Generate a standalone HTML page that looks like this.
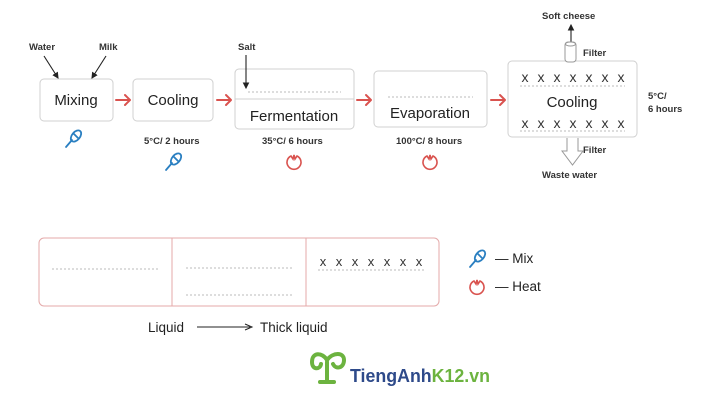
<!DOCTYPE html>
<html><head><meta charset="utf-8"><style>
html,body{margin:0;padding:0;background:#fff;}
svg{display:block;font-family:"Liberation Sans",sans-serif;}
</style></head><body>
<svg width="712" height="414" viewBox="0 0 712 414" xmlns="http://www.w3.org/2000/svg">
<defs>
<marker id="ba" markerWidth="6" markerHeight="6" refX="5" refY="3" orient="auto"><path d="M0,0 L6,3 L0,6 z" fill="#222"/></marker>
<g id="whisk" fill="none" stroke="#2a7fc1" stroke-width="1.8" stroke-linecap="round">
<ellipse cx="3" cy="-3" rx="4" ry="6.5" transform="rotate(40 3 -3)"/>
<path d="M1,-5 L5,-1"/>
<path d="M-1,1 L-7,8"/>
</g>
<g id="heat" fill="none" stroke="#d9534f" stroke-width="1.6">
<path d="M-3,-6 A7,7 0 1 0 3,-6 L1,-3 L0,-7 L-1,-3 Z"/>
</g>
</defs>
<g fill="none" stroke="#d0d0d0" stroke-width="1">
<rect x="40" y="79" width="73" height="42" rx="4"/>
<rect x="133" y="79" width="80" height="42" rx="4"/>
<rect x="235" y="69" width="119" height="60" rx="4"/>
<line x1="235" y1="99" x2="354" y2="99"/>
<rect x="374" y="71" width="113" height="56" rx="4"/>
<rect x="508" y="61" width="129" height="76" rx="4"/>
</g>
<g stroke="#bbb" stroke-dasharray="2,2" fill="none">
<line x1="248" y1="92" x2="341" y2="92"/>
<line x1="388" y1="97" x2="473" y2="97"/>
<line x1="520" y1="86" x2="625" y2="86"/>
<line x1="520" y1="131" x2="625" y2="131"/>
</g>
<g font-size="15" fill="#222" text-anchor="middle">
<text x="76" y="105">Mixing</text>
<text x="173" y="105">Cooling</text>
<text x="294" y="121">Fermentation</text>
<text x="430" y="118">Evaporation</text>
<text x="572" y="107">Cooling</text>
</g>
<g font-size="14" fill="#333" text-anchor="middle">
<text x="525" y="82">x</text><text x="541" y="82">x</text><text x="557" y="82">x</text><text x="573" y="82">x</text><text x="589" y="82">x</text><text x="605" y="82">x</text><text x="621" y="82">x</text>
<text x="525" y="128">x</text><text x="541" y="128">x</text><text x="557" y="128">x</text><text x="573" y="128">x</text><text x="589" y="128">x</text><text x="605" y="128">x</text><text x="621" y="128">x</text>
</g>
<g font-size="9.5" font-weight="bold" fill="#333">
<text x="29" y="50">Water</text>
<text x="99" y="50">Milk</text>
<text x="238" y="50">Salt</text>
<text x="144" y="144">5°C/ 2 hours</text>
<text x="262" y="144">35°C/ 6 hours</text>
<text x="396" y="144">100°C/ 8 hours</text>
<text x="542" y="19">Soft cheese</text>
<text x="583" y="56">Filter</text>
<text x="583" y="153">Filter</text>
<text x="542" y="178">Waste water</text>
<text x="648" y="99">5°C/</text>
<text x="648" y="112">6 hours</text>
</g>
<g stroke="#222" stroke-width="1.1" fill="none" marker-end="url(#ba)">
<line x1="44" y1="56" x2="58" y2="78"/>
<line x1="106" y1="56" x2="92" y2="78"/>
<line x1="246" y1="55" x2="246" y2="88"/>
<line x1="571" y1="42" x2="571" y2="25"/>
</g>
<rect x="565" y="42" width="11" height="20" rx="3" fill="#fff" stroke="#999"/>
<ellipse cx="570.5" cy="44" rx="5" ry="2" fill="none" stroke="#999"/>
<path d="M567,138 L567,151 L562,151 L572.5,165 L583,151 L578,151 L578,138" fill="#fff" stroke="#999"/>
<g stroke="#d9534f" stroke-width="2" fill="none" stroke-linecap="round" stroke-linejoin="round">
<path d="M116,100 L130,100 M125,95 L130,100 L125,105"/>
<path d="M217,100 L231,100 M226,95 L231,100 L226,105"/>
<path d="M357,100 L371,100 M366,95 L371,100 L366,105"/>
<path d="M491,100 L505,100 M500,95 L505,100 L500,105"/>
</g>
<use href="#whisk" x="73" y="139"/>
<use href="#whisk" x="173" y="162"/>
<use href="#heat" x="294" y="162"/>
<use href="#heat" x="430" y="162"/>
<rect x="39" y="238" width="400" height="68" rx="5" fill="none" stroke="#e4aaaa"/>
<line x1="172" y1="238" x2="172" y2="306" stroke="#e4aaaa"/>
<line x1="306" y1="238" x2="306" y2="306" stroke="#e4aaaa"/>
<g stroke="#bbb" stroke-dasharray="2,2">
<line x1="52" y1="269" x2="160" y2="269"/>
<line x1="186" y1="268" x2="292" y2="268"/>
<line x1="186" y1="295" x2="292" y2="295"/>
<line x1="318" y1="270" x2="424" y2="270"/>
</g>
<g font-size="13" fill="#333" text-anchor="middle">
<text x="323" y="266">x</text><text x="339" y="266">x</text><text x="355" y="266">x</text><text x="371" y="266">x</text><text x="387" y="266">x</text><text x="403" y="266">x</text><text x="419" y="266">x</text>
</g>
<use href="#whisk" x="477" y="259"/>
<use href="#heat" x="477" y="287"/>
<g font-size="13.5" fill="#222">
<text x="495" y="263">— Mix</text>
<text x="495" y="291">— Heat</text>
<text x="148" y="332">Liquid</text>
<text x="260" y="332">Thick liquid</text>
</g>
<line x1="197" y1="327" x2="250" y2="327" stroke="#222" stroke-width="1"/>
<path d="M245,324 L252,327 L245,330" fill="none" stroke="#222"/>
<g fill="none" stroke="#6cb33f" stroke-width="4" stroke-linecap="round">
<path d="M327,382 L327,362"/>
<path d="M327,360 C322,352 312,352 312,362 C312,370 320,370 321,364"/>
<path d="M327,360 C333,352 344,352 344,360 C344,368 336,370 333,364"/>
<path d="M320,382 L334,382"/>
</g>
<text x="350" y="382" font-size="18" font-weight="bold" fill="#2e4a8a" textLength="140" lengthAdjust="spacingAndGlyphs">TiengAnh<tspan fill="#6cb33f">K12.vn</tspan></text>
</svg>
</body></html>
